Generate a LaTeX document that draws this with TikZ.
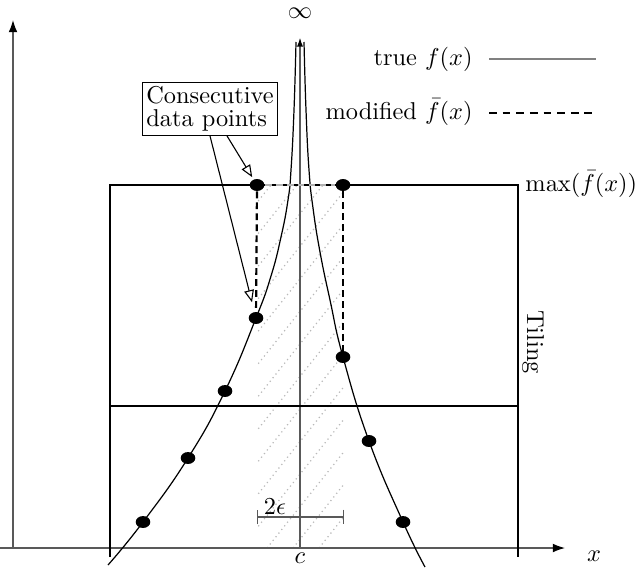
\documentclass[tikz,border=0pt]{standalone}
\usepackage{amsmath, amssymb}
\usetikzlibrary{calc,arrows.meta,shapes.geometric}

\tikzset{
  datapt/.style={ellipse,fill=black,inner sep=0pt,minimum width=6pt,minimum height=4.9pt},
  tileline/.style={line width=1pt},
  axisline/.style={gray!70!black,line width=0.5pt,-{Latex[length=5pt,width=3.6pt,color=black]}},
  modline/.style={dash pattern=on 2.8pt off 1.7pt,line width=0.9pt},
  hatchline/.style={gray!55,dash pattern=on 0.5pt off 1.4pt,line width=0.5pt},
  callout/.style={-{Triangle[open,length=5pt,width=4pt]},line width=0.45pt}
}

\begin{document}
\begin{tikzpicture}[x=0.01443cm,y=-0.01443cm]
\useasboundingbox (0,0) rectangle (636,567);
\begin{scope}
\clip (257,185) rectangle (344,548);
\foreach \s in {-19,7,...,345} \draw[hatchline] (\s,548) -- ++(290,-363);
\end{scope}
\draw[axisline] (0,548) -- (565,548);
\draw[axisline] (13,548) -- (13,20);
\node[inner sep=0pt] (xlab) at (594,556) {$x$};
\node[inner sep=0pt] (clab) at (300,558) {$c$};
\node[inner sep=0pt] (inflab) at (300,13) {$\infty$};
\coordinate (cbot) at (300,548);
\coordinate (ctop) at (300,37);
\draw[gray!70!black,line width=0.9pt,-{Latex[length=4pt,width=2.6pt,color=black]}] (cbot) -- (ctop);
\draw[tileline] (110,557) -- (110,185) -- (518,185) -- (518,557);
\draw[tileline] (110,406) -- (518,406);
\draw[line width=0.5pt] plot[smooth,tension=0.8] coordinates {(108,565) (143,522) (188,458) (225,391) (256,318) (271,276) (281,237) (288,200) (291,170) (294,110) (296,42)};
\draw[line width=0.5pt] plot[smooth,tension=0.8] coordinates {(425,567) (403,522) (369,441) (343,357) (330,300) (320,252) (313,208) (309,170) (306,110) (304,42)};
\node[datapt] (l1) at (143,522) {};
\node[datapt] (l2) at (188,458) {};
\node[datapt] (l3) at (225,391) {};
\node[datapt] (l4) at (256,318) {};
\node[datapt] (r1) at (403,522) {};
\node[datapt] (r2) at (369,441) {};
\node[datapt] (r3) at (343,357) {};
\node[datapt] (m1) at (257,185) {};
\node[datapt] (m2) at (343,185) {};
\draw[modline] (m1) -- (l4);
\draw[modline] (m2) -- (r3);
\draw[modline,gray!60,line width=0.8pt] (m1) -- (m2);
\coordinate (eps1) at (257,517);
\coordinate (eps2) at (344,517);
\draw[gray!70!black,line width=0.6pt,{Bar[width=6pt]}-{Bar[width=6pt]}] (eps1) -- (eps2);
\node (epslab) at (275,507) {$2\epsilon$};
\node[draw,align=left,inner sep=1.5pt,line width=0.5pt,font={\fontsize{10}{9.6}\selectfont}] (note) at (210,109) {Consecutive\\data points};
\draw[callout,shorten >=4pt] (note.south) -- (l4);
\draw[callout,shorten >=1pt] ($(note.south)+(17,0)$) -- (m1);
\node[anchor=east,inner sep=0pt] (truelab) at (473,59) {true $f(x)$};
\node[anchor=east,inner sep=0pt] (modlab) at (473,112) {modified $\bar{f}(x)$};
\draw[gray,line width=0.6pt] (489,59) -- (596,59);
\draw[dash pattern=on 3.2pt off 2.4pt,line width=0.5pt] (489,113) -- (592,113);
\node[anchor=west,inner sep=0pt] (maxlab) at (525,184) {$\max(\bar{f}(x))$};
\node[rotate=-90,inner sep=0pt] (tiling) at (533,342) {Tiling};
\end{tikzpicture}
\end{document}
